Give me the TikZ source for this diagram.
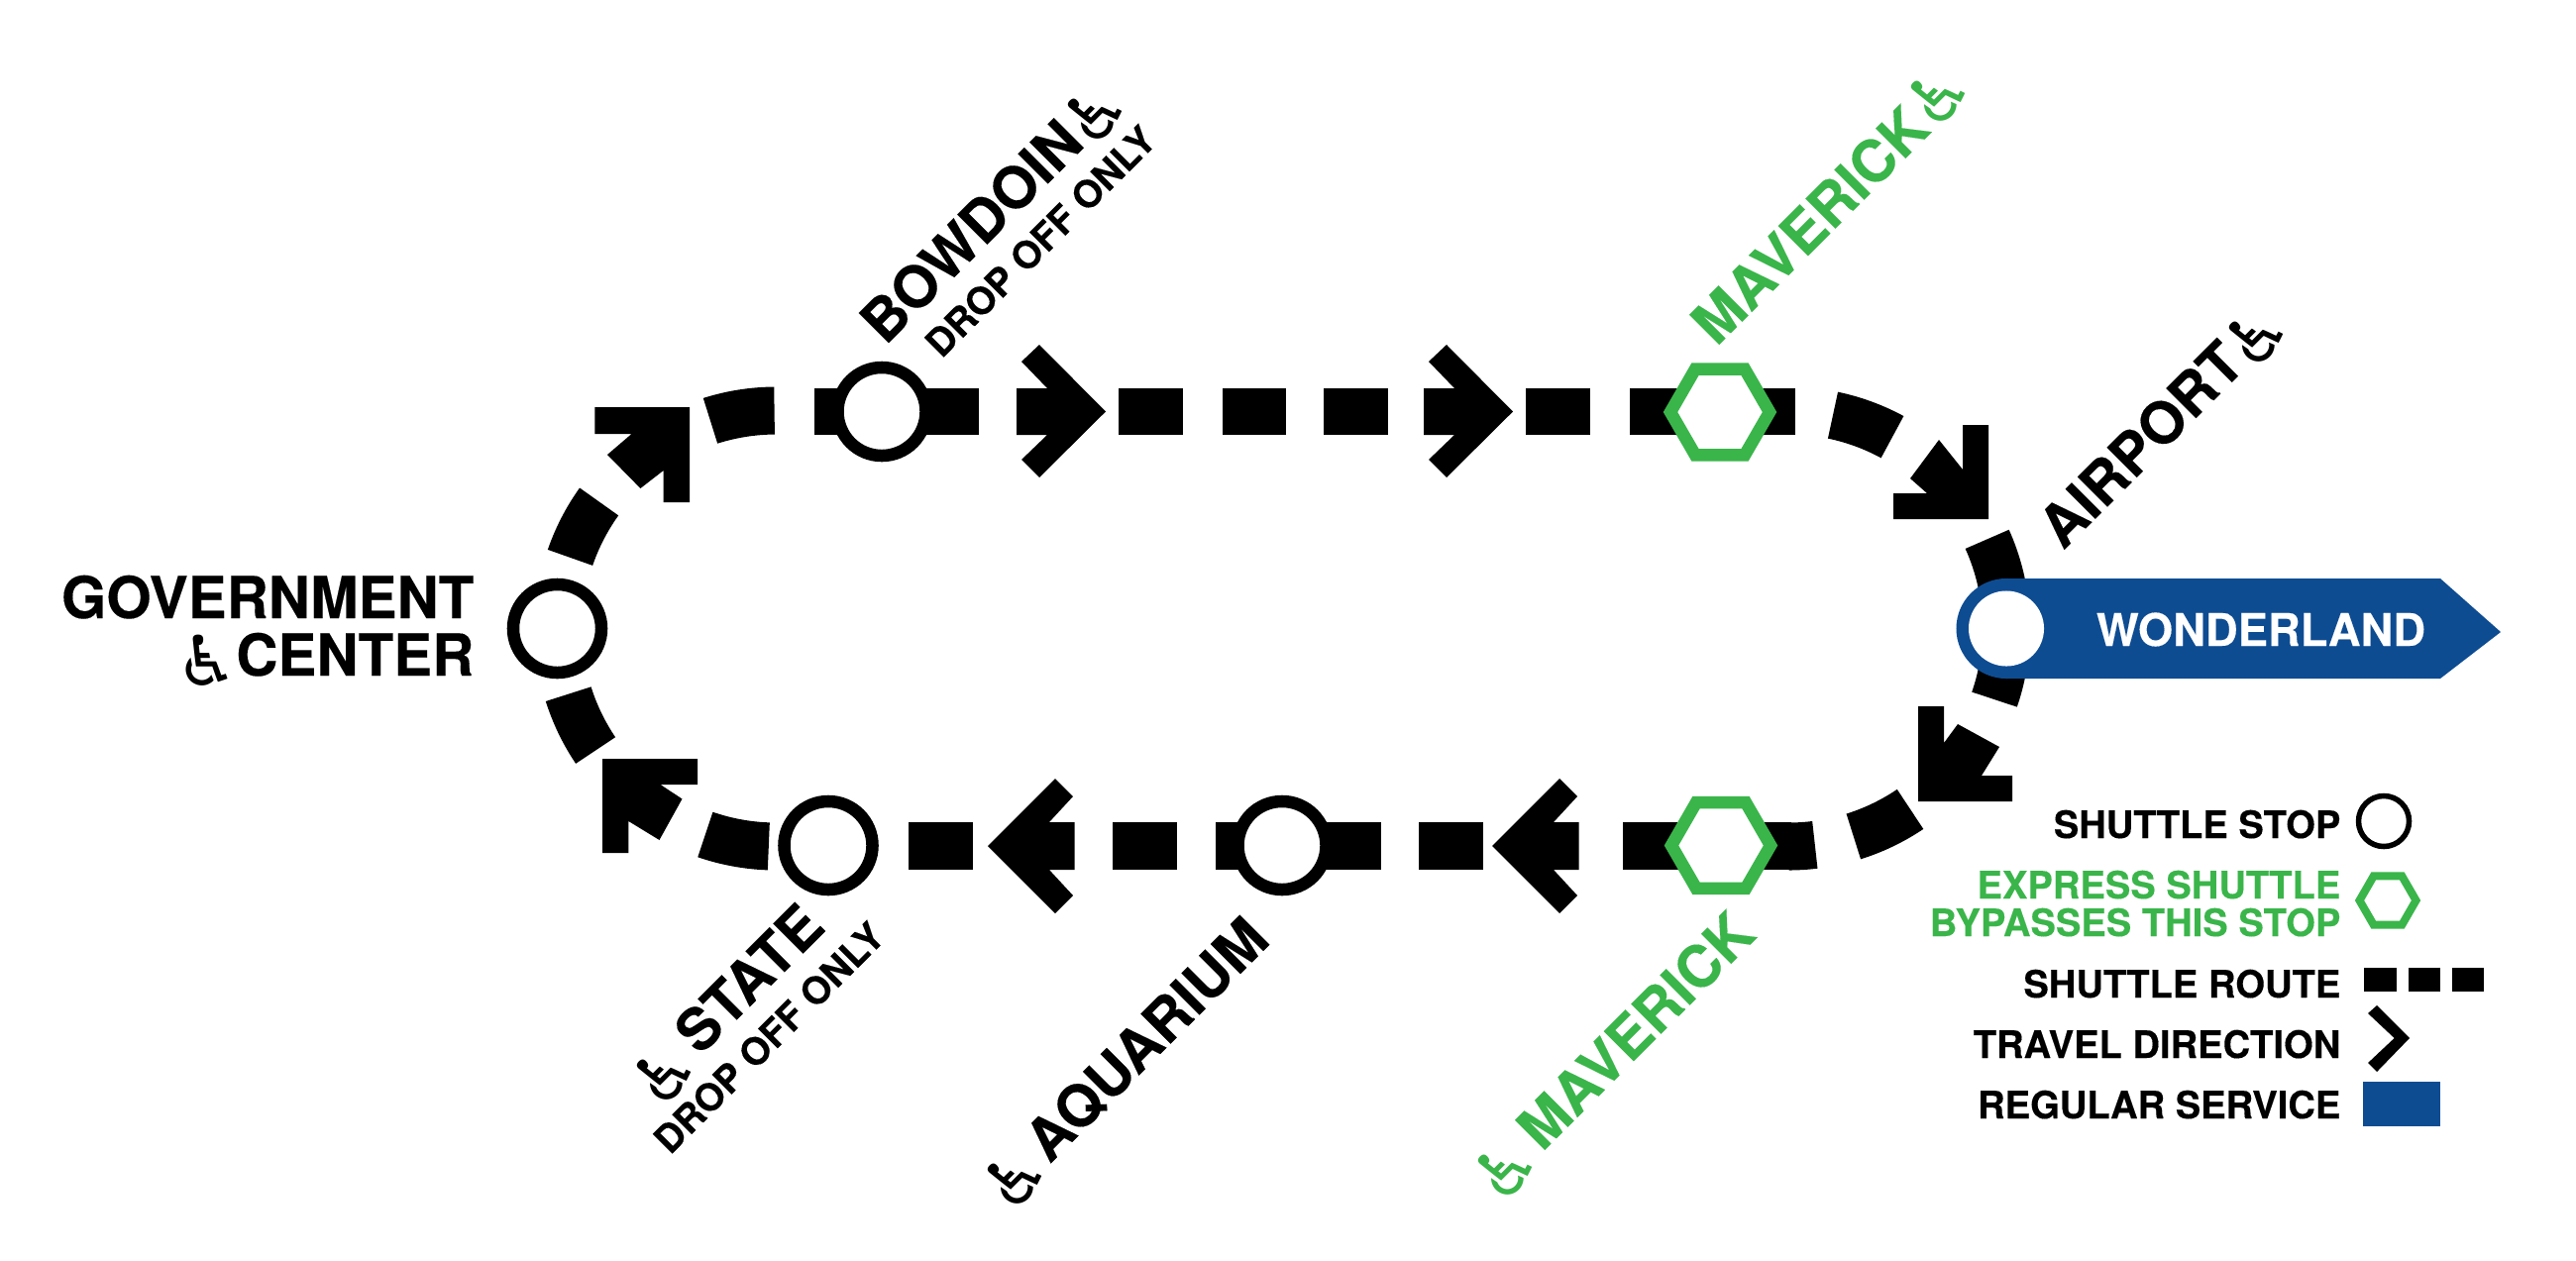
\documentclass[tikz,border=0pt]{standalone}
\usepackage{fontspec}
\setmainfont{TeX Gyre Heros}[BoldFeatures={FakeBold=0.25}]
\newfontfamily\wcfont{DejaVu Sans}
\usetikzlibrary{shapes.geometric}
\definecolor{mgreen}{HTML}{3AB54A}
\definecolor{mblue}{HTML}{0E4C92}
\newcommand{\rtarc}[4]{\draw[routeline] plot[domain=#3:#4,samples=24,smooth] ({#1+220*cos(\x)},{#2-220*sin(\x)});}
\newcommand{\bigfs}{\fontsize{16.6}{18}\selectfont\bfseries}
\newcommand{\smallfs}{\fontsize{10.85}{12}\selectfont\bfseries}
\tikzset{
  x=0.01cm,y=-0.01cm,
  routeline/.style={line width=0.48cm,black,line cap=butt},
  routeblock/.style={fill=black,draw=none},
  stopring/.style={circle,draw=black,fill=white,line width=0.125cm,minimum size=0.89cm,inner sep=0pt},
  hexstop/.style={regular polygon,regular polygon sides=6,draw=mgreen,fill=white,line width=0.125cm,minimum size=1.0cm,inner sep=0pt,miter limit=10},
  biglabel/.style={anchor=base west,rotate=45,inner sep=0pt,font=\bigfs},
  droplabel/.style={anchor=base west,rotate=45,inner sep=0pt,font=\smallfs},
  wc/.style={inner sep=0pt,anchor=center,font=\wcfont\fontsize{20}{22}\selectfont},
  legendtext/.style={anchor=base east,inner sep=0pt,font=\smallfs,align=right},
}
\begin{document}
\begin{tikzpicture}
\useasboundingbox (0,0) rectangle (2600,1272);
\fill[white] (0,0) rectangle (2600,1272);
% --- top straight dashes
\foreach \a/\b in {822/988,1129/1194,1234/1298,1336/1401,1540/1605,1645/1812}
  \fill[routeblock] (\a,392) rectangle (\b,439);
% --- top arrows
\foreach \d in {0,411}
  \fill[routeblock,shift={(\d,0)}] (1026,392) -- (1057,392) -- (1031,365) -- (1049,348) -- (1116,415.5) -- (1049,482) -- (1031,464) -- (1057,439) -- (1026,439) -- cycle;
% --- bottom straight dashes
\foreach \a/\b in {917/982,1123/1188,1227/1394,1432/1497,1638/1808}
  \fill[routeblock] (\a,830) rectangle (\b,878);
% --- bottom arrows
\foreach \d in {0,509}
  \fill[routeblock,shift={(\d,0)}] (1084.5,830) -- (1059,830) -- (1083,804) -- (1065,786) -- (997,854) -- (1065,922) -- (1083,904) -- (1059,878) -- (1084.5,878) -- cycle;
% --- curved dashes
\rtarc{1805}{634.5}{78.2}{61.5}
\rtarc{1805}{634.5}{24.2}{-19}
\rtarc{1805}{634.5}{-56}{-72.6}
\rtarc{1805}{634.5}{-83}{-89.9}
\rtarc{783.5}{634.5}{251}{268}
\rtarc{783.5}{634.5}{197.5}{214}
\rtarc{783.5}{634.5}{144.4}{161}
\rtarc{783.5}{634.5}{90.5}{107.6}
% --- corner arrows
\fill[routeblock] (1957,444) -- (1981,474) -- (1981,429) -- (2007,429) -- (2007,524) -- (1911,524) -- (1911,498) -- (1945,498) -- (1928,483) -- cycle;
\fill[routeblock] (1936,713) -- (1962,713) -- (1962,750) -- (1976,731) -- (2018,754) -- (2000,783) -- (2031,783) -- (2031,809) -- (1936,809) -- cycle;
\fill[routeblock] (608,766) -- (704,766) -- (704,792) -- (666.5,792) -- (688.5,806.5) -- (665.5,848) -- (634.4,829) -- (634.4,861) -- (608,861) -- cycle;
\fill[routeblock] (600.4,411) -- (696,411) -- (696,507) -- (669.6,507) -- (669.6,475) -- (646.4,493) -- (613,459) -- (637.5,438) -- (600.4,438) -- cycle;
% --- Wonderland badge
\node[circle,fill=mblue,minimum size=1.01cm,inner sep=0pt] (wonderlandcap) at (2025,634.5) {};
\fill[mblue] (2025,584) -- (2463,584) -- (2524,638) -- (2463,685) -- (2025,685) -- cycle;
\node[circle,fill=white,minimum size=0.76cm,inner sep=0pt] (wonderland) at (2025,634.5) {};
\node[anchor=base,inner sep=0pt,text=white,font=\fontsize{12.9}{14}\selectfont\bfseries] (wonderlandtext) at (2282,652) {WONDERLAND};
% --- stops
\node[stopring] (gov) at (562.5,634.5) {};
\node[stopring] (bowdoin) at (890,415.5) {};
\node[stopring] (state) at (836,853.5) {};
\node[stopring] (aquarium) at (1294,853.5) {};
\node[hexstop] (mavtop) at (1736,416) {};
\node[hexstop] (mavbot) at (1737,853.5) {};
% --- labels
\node[anchor=base east,inner sep=0pt,font=\fontsize{16.6}{18}\selectfont\bfseries] (govtext) at (479,624) {GOVERNMENT};
\node[anchor=base east,inner sep=0pt,font=\fontsize{16.6}{18}\selectfont\bfseries] (centertext) at (479,682) {CENTER};
\node[wc] (wcgov) at (209,667) {♿};
\node[biglabel] (bowdointext) at (893,350) {BOWDOIN};
\node[droplabel] (bowdoindrop) at (950,363) {DROP OFF ONLY};
\node[wc,rotate=45] (wcbowdoin) at (1105,114) {♿};
\node[biglabel,text=mgreen] (mavtoptext) at (1732,351) {MAVERICK};
\node[wc,rotate=45,text=mgreen] (wcmavtop) at (1956,96) {♿};
\node[biglabel] (airporttext) at (2082,556.6) {AIRPORT};
\node[wc,rotate=45] (wcairport) at (2277,339) {♿};
\node[biglabel] (statetext) at (706,1067) {STATE};
\node[droplabel] (statedrop) at (676,1167) {DROP OFF ONLY};
\node[wc,rotate=45] (wcstate) at (670,1084) {♿};
\node[biglabel] (aquariumtext) at (1059,1176) {AQUARIUM};
\node[wc,rotate=45] (wcaquarium) at (1024,1189) {♿};
\node[biglabel,text=mgreen] (mavbottext) at (1556,1164) {MAVERICK};
\node[wc,rotate=45,text=mgreen] (wcmavbot) at (1519,1180) {♿};
% --- legend
\node[legendtext] (lgstop) at (2363,846) {SHUTTLE STOP};
\node[circle,draw=black,line width=0.055cm,minimum size=0.51cm,inner sep=0pt] (lgcircle) at (2406,829) {};
\node[legendtext,text=mgreen] (lgexp1) at (2363,907) {EXPRESS SHUTTLE};
\node[legendtext,text=mgreen] (lgexp2) at (2363,945) {BYPASSES THIS STOP};
\node[regular polygon,regular polygon sides=6,draw=mgreen,line width=0.08cm,minimum size=0.57cm,inner sep=0pt] (lghex) at (2410,909) {};
\node[legendtext] (lgroute) at (2363,1007) {SHUTTLE ROUTE};
\foreach \a/\b in {2386/2419,2431/2463,2475/2507}
  \fill[routeblock] (\a,977) rectangle (\b,1001);
\node[legendtext] (lgdir) at (2363,1068) {TRAVEL DIRECTION};
\fill[routeblock] (2399,1015) -- (2432,1048) -- (2399,1082) -- (2390,1073) -- (2416.6,1048) -- (2390,1023) -- cycle;
\node[legendtext] (lgreg) at (2363,1129) {REGULAR SERVICE};
\fill[mblue] (2385,1092) rectangle (2463,1137);
\end{tikzpicture}
\end{document}
